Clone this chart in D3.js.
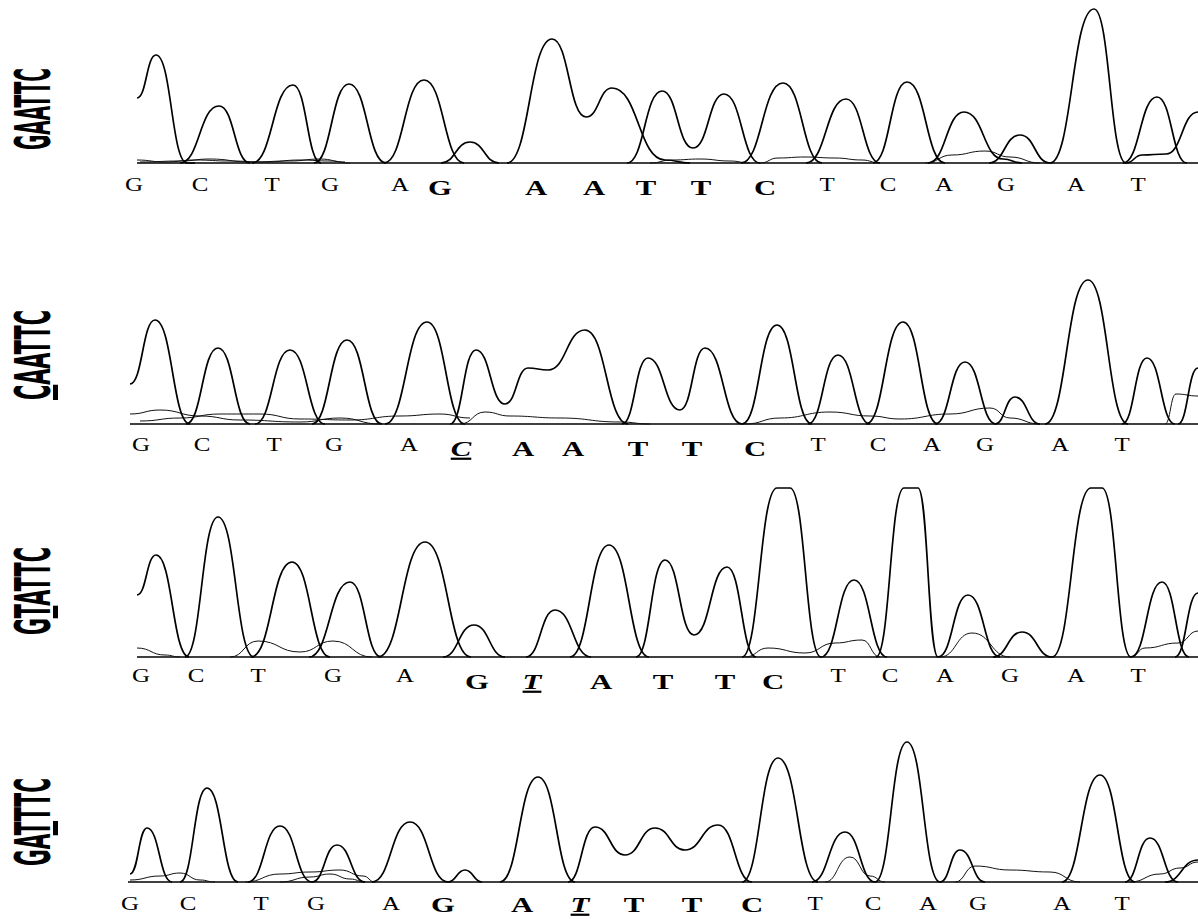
<!DOCTYPE html>
<html>
<head>
<meta charset="utf-8">
<script src="https://cdn.jsdelivr.net/npm/d3@7"></script>
<style>
  body { margin: 0; background: #fff; }
  svg { display: block; }
  .trace { fill: none; stroke: #000; stroke-width: 1.7; stroke-linejoin: round; }
  .minor { fill: none; stroke: #111; stroke-width: 1; }
  .baseline { stroke: #000; stroke-width: 1.6; }
  .call { font-family: "Liberation Serif", "Times New Roman", serif; fill: #000; }
  .label { font-family: "DejaVu Sans", "Liberation Sans", sans-serif; font-weight: bold; fill: #000; }
</style>
</head>
<body>
<div id="chart"></div>
<script>
// Sample names (left labels) and which letter is the mutation
const sampleNames = ["GAATTC", "CAATTC", "GTATTC", "GATTTC"];
const mutatedIndex = [-1, 0, 1, 2];

// Base calls under each trace
const calls1 = "GCTGAGAATTCTCAGAT".split("");
const calls2 = "GCTGACAATTCTCAGAT".split("");
const calls3 = "GCTGAGTATTCTCAGAT".split("");
const calls4 = "GCTGAGATTTCTCAGAT".split("");
const siteStart = 5, siteEnd = 10;   // bold recognition site
const mutatedCall = [-1, 5, 6, 7];

// Scan position of each base call
const callPos1 = [134, 200, 272, 330, 400, 440, 536, 594, 646, 701, 765, 827, 888, 944, 1006, 1076, 1138];
const callPos2 = [141, 202, 274, 334, 409, 461, 523, 573, 638, 692, 755, 818, 878, 932, 985, 1060, 1122];
const callPos3 = [141, 196, 258, 333, 405, 477, 532, 601, 663, 725, 773, 838, 890, 945, 1010, 1076, 1138];
const callPos4 = [130, 188, 261, 316, 391, 443, 522, 580, 634, 692, 752, 815, 873, 928, 978, 1062, 1122];

// Main traces: knots [scan, signal] at feet, peaks and valleys
const traces1 = [
  [[137, 65], [156, 108], [187, 0], [195, 0]],
  [[180, 0], [219, 57], [250, 0]],
  [[252, 0], [293, 78], [321, 0]],
  [[314, 0], [349, 79], [386, 0]],
  [[384, 0], [424, 83], [464, 0]],
  [[441, 0], [470, 21], [499, 0]],
  [[507, 0], [552, 124], [586, 46], [612, 75], [665, 3], [690, 0]],
  [[627, 0], [662, 72], [693, 15], [724, 69], [760, 0]],
  [[741, 0], [783, 80], [822, 0]],
  [[806, 0], [846, 64], [880, 0]],
  [[873, 0], [907, 81], [945, 0]],
  [[928, 0], [964, 51], [1003, 4], [1022, 0]],
  [[989, 0], [1020, 28], [1050, 0]],
  [[1050, 0], [1094, 154], [1126, 0]],
  [[1123, 0], [1157, 66], [1187, 0]],
  [[1126, 0], [1142, 8], [1166, 9], [1198, 51]]
];
const minor1 = [
  [[137, 3], [165, 1], [195, 3], [230, 2], [265, 1], [300, 3], [330, 2], [350, 0]],
  [[140, 1], [180, 2], [210, 4], [250, 1], [290, 2], [320, 4], [345, 1]],
  [[760, 0], [778, 5], [805, 6], [835, 5], [862, 3], [880, 0]],
  [[925, 0], [952, 8], [985, 12], [1010, 6], [1040, 0]],
  [[650, 0], [672, 3], [700, 4], [730, 2], [750, 0]]
];

const traces2 = [
  [[130, 40], [155, 104], [190, 0]],
  [[186, 0], [218, 76], [250, 0]],
  [[255, 0], [290, 74], [325, 0]],
  [[312, 0], [347, 84], [382, 0]],
  [[385, 0], [427, 102], [465, 0]],
  [[450, 0], [476, 74], [505, 20], [528, 56], [548, 54], [585, 94], [628, 0]],
  [[622, 0], [648, 66], [680, 14], [705, 76], [742, 0]],
  [[742, 0], [777, 99], [812, 0]],
  [[808, 0], [838, 69], [870, 0]],
  [[866, 0], [903, 102], [938, 0]],
  [[935, 0], [965, 62], [996, 0]],
  [[995, 0], [1015, 27], [1040, 0]],
  [[1045, 0], [1088, 144], [1128, 0]],
  [[1122, 0], [1147, 66], [1175, 0]],
  [[1178, 0], [1198, 56]]
];
const minor2 = [
  [[130, 10], [160, 14], [200, 8], [240, 4], [300, 2], [340, 6], [380, 0]],
  [[140, 3], [180, 6], [220, 10], [260, 10], [300, 5], [350, 4], [400, 8], [440, 10], [470, 6]],
  [[460, 0], [485, 12], [510, 8], [560, 6], [620, 2], [650, 0]],
  [[745, 0], [780, 6], [830, 12], [870, 8], [900, 5], [950, 10], [990, 16], [1010, 6], [1040, 0]],
  [[1165, 0], [1176, 30], [1198, 28]]
];

const traces3 = [
  [[137, 62], [156, 102], [189, 0]],
  [[185, 0], [218, 140], [254, 0]],
  [[251, 0], [292, 95], [330, 0]],
  [[309, 0], [350, 75], [381, 0]],
  [[378, 0], [425, 115], [471, 0]],
  [[443, 0], [474, 32], [505, 0]],
  [[526, 0], [555, 47], [591, 0]],
  [[570, 0], [609, 112], [649, 0]],
  [[636, 0], [665, 97], [694, 22], [727, 90], [756, 0]],
  [[742, 0], [777, 169], [790, 169], [821, 0]],
  [[821, 0], [854, 77], [887, 0]],
  [[876, 0], [904, 169], [918, 169], [938, 0]],
  [[938, 0], [968, 62], [1000, 0]],
  [[993, 0], [1022, 25], [1052, 0]],
  [[1052, 0], [1091, 169], [1102, 169], [1131, 0]],
  [[1131, 0], [1162, 75], [1189, 0]],
  [[1175, 0], [1198, 64]]
];
const minor3 = [
  [[137, 9], [165, 2], [180, 0]],
  [[230, 0], [258, 16], [300, 5], [333, 16], [372, 0]],
  [[745, 0], [768, 9], [805, 4], [835, 14], [862, 17], [880, 0]],
  [[940, 0], [972, 24], [1010, 0]],
  [[1131, 0], [1145, 9], [1178, 14], [1198, 26]]
];

const traces4 = [
  [[130, 8], [147, 54], [172, 0]],
  [[180, 0], [207, 94], [238, 0]],
  [[248, 0], [280, 56], [312, 0]],
  [[312, 0], [337, 37], [365, 0]],
  [[372, 0], [410, 60], [448, 0]],
  [[448, 0], [465, 12], [482, 0]],
  [[500, 0], [538, 105], [575, 0]],
  [[568, 0], [595, 55], [625, 27], [655, 54], [685, 32], [718, 57], [752, 0]],
  [[742, 0], [778, 124], [818, 0]],
  [[812, 0], [845, 50], [875, 0]],
  [[875, 0], [907, 140], [940, 0]],
  [[940, 0], [960, 32], [985, 0]],
  [[1062, 0], [1100, 107], [1135, 0]],
  [[1125, 0], [1150, 44], [1178, 0]],
  [[1165, 0], [1198, 22]]
];
const minor4 = [
  [[130, 2], [160, 6], [180, 9], [200, 2], [215, 0]],
  [[245, 0], [280, 8], [310, 10], [340, 12], [363, 6], [375, 0]],
  [[280, 0], [310, 5], [330, 8], [350, 3], [365, 0]],
  [[825, 0], [850, 25], [870, 6], [885, 0]],
  [[955, 0], [975, 16], [1010, 12], [1050, 10], [1080, 0]],
  [[1130, 0], [1160, 8], [1180, 14], [1198, 20]]
];

const panels = [
  { calls: calls1, pos: callPos1, traces: traces1, minor: minor1 },
  { calls: calls2, pos: callPos2, traces: traces2, minor: minor2 },
  { calls: calls3, pos: callPos3, traces: traces3, minor: minor3 },
  { calls: calls4, pos: callPos4, traces: traces4, minor: minor4 }
];

// layout of each strip
const layout = [
  { base: 163, callY: 191, boldY: 195, axisX0: 137, labelBottom: 150, labelLen: 82 },
  { base: 424, callY: 451, boldY: 456, axisX0: 130, labelBottom: 400, labelLen: 90 },
  { base: 657, callY: 682, boldY: 689, axisX0: 137, labelBottom: 635, labelLen: 88 },
  { base: 882, callY: 910, boldY: 912, axisX0: 128, labelBottom: 866, labelLen: 88 }
];

const width = 1198, height = 919;
const svg = d3.select("#chart").append("svg")
  .attr("width", width)
  .attr("height", height);

const x = d3.scaleLinear().domain([120, 1198]).range([120, 1198]);
const isSite = k => k >= siteStart && k <= siteEnd;

panels.forEach((p, i) => {
  const L = layout[i];
  const y = d3.scaleLinear().domain([0, 170]).range([L.base, L.base - 170]);
  const line = d3.line()
    .x(d => x(d[0]))
    .y(d => y(d[1]))
    .curve(d3.curveBumpX);

  const g = svg.append("g");

  g.append("line")
    .attr("class", "baseline")
    .attr("x1", L.axisX0).attr("x2", width)
    .attr("y1", L.base).attr("y2", L.base);

  g.selectAll("path.minor")
    .data(p.minor)
    .join("path")
    .attr("class", "minor")
    .attr("d", line);

  g.selectAll("path.trace")
    .data(p.traces)
    .join("path")
    .attr("class", "trace")
    .attr("d", line);

  // base calls
  g.selectAll("text.call")
    .data(p.calls)
    .join("text")
    .attr("class", "call")
    .attr("text-anchor", "middle")
    .attr("transform", (d, k) =>
      `translate(${x(p.pos[k])},${isSite(k) ? L.boldY : L.callY}) scale(${isSite(k) ? 1.4 : 1.35},1)`)
    .attr("font-size", (d, k) => isSite(k) ? 22 : 18.5)
    .attr("font-weight", (d, k) => isSite(k) ? "bold" : "normal")
    .attr("font-style", (d, k) => k === mutatedCall[i] ? "italic" : "normal")
    .attr("text-decoration", (d, k) => k === mutatedCall[i] ? "underline" : "none")
    .text(d => d);

  // sample label, rotated
  const label = g.append("text")
    .attr("class", "label")
    .attr("transform", `translate(50,${L.labelBottom}) rotate(-90)`)
    .attr("font-size", 50)
    .attr("textLength", L.labelLen)
    .attr("lengthAdjust", "spacingAndGlyphs");
  sampleNames[i].split("").forEach((ch, k) => {
    label.append("tspan")
      .attr("text-decoration", k === mutatedIndex[i] ? "underline" : null)
      .text(ch);
  });
});
</script>
</body>
</html>
